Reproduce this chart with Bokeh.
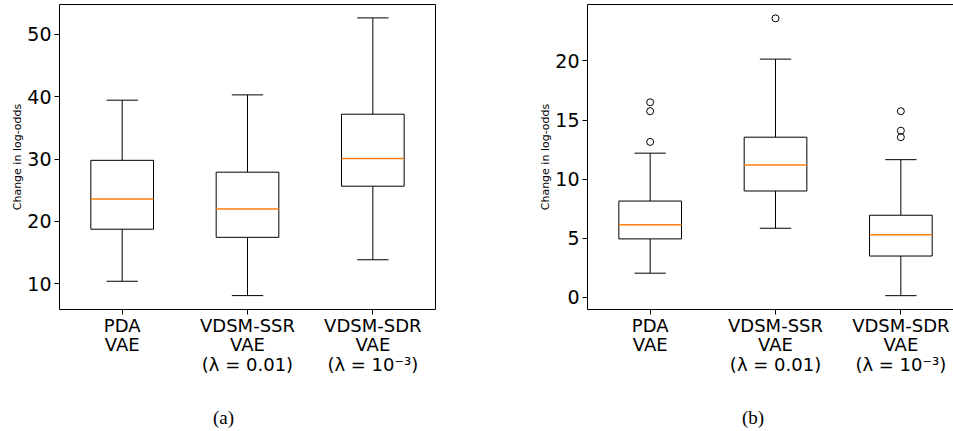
from bokeh.plotting import figure
from bokeh.models import FixedTicker, Range1d, LinearAxis, Div
from bokeh.layouts import row, column
from bokeh.embed import file_html
from bokeh.resources import INLINE

# ---------------- data ----------------
positions = [1, 2, 3]
tick_labels = ["PDA\nVAE", "VDSM-SSR\nVAE\n(λ = 0.01)", "VDSM-SDR\nVAE\n(λ = 10⁻³)"]

# panel (a)
a_whisker_low = [10.4, 8.1, 13.85]
a_q1 = [18.75, 17.45, 25.65]
a_median = [23.6, 22.0, 30.1]
a_q3 = [29.8, 27.9, 37.2]
a_whisker_high = [39.45, 40.3, 52.65]
a_outliers = [[], [], []]
a_yticks = [10, 20, 30, 40, 50]

# panel (b)
b_whisker_low = [2.05, 5.85, 0.15]
b_q1 = [4.95, 9.0, 3.5]
b_median = [6.15, 11.2, 5.3]
b_q3 = [8.15, 13.55, 6.95]
b_whisker_high = [12.2, 20.15, 11.65]
b_outliers = [[13.15, 15.75, 16.5], [23.6], [13.55, 14.1, 15.75]]
b_yticks = [0, 5, 10, 15, 20]

BOX_W = 0.5
CAP_W = 0.25
MEDIAN_COLOR = "#ff7f0e"
FONT = "DejaVu Sans"
FIG_H = 395


def border_axis(p, side):
    ax = LinearAxis(ticker=FixedTicker(ticks=[]), axis_line_color="black",
                    axis_line_width=1, major_tick_out=0, major_tick_in=0,
                    minor_tick_out=0, minor_tick_in=0, major_label_text_font_size="0px")
    p.add_layout(ax, side)


def panel(lo, q1, med, q3, hi, outl, yr, yticks, width, x_end, mb_left, mb_right, right_border):
    p = figure(width=width, height=FIG_H, x_range=Range1d(0.5, x_end), y_range=Range1d(*yr),
               output_backend="svg", toolbar_location=None,
               min_border_left=mb_left, min_border_right=mb_right,
               min_border_top=4, min_border_bottom=FIG_H - 4 - 305)
    p.grid.visible = False
    p.outline_line_color = None
    p.background_fill_color = "white"
    p.border_fill_color = "white"

    # whiskers
    p.segment(x0=positions, y0=q3, x1=positions, y1=hi, line_color="black", line_width=1)
    p.segment(x0=positions, y0=q1, x1=positions, y1=lo, line_color="black", line_width=1)
    # caps
    p.segment(x0=[x - CAP_W / 2 for x in positions], x1=[x + CAP_W / 2 for x in positions],
              y0=hi, y1=hi, line_color="black", line_width=1)
    p.segment(x0=[x - CAP_W / 2 for x in positions], x1=[x + CAP_W / 2 for x in positions],
              y0=lo, y1=lo, line_color="black", line_width=1)
    # boxes
    p.vbar(x=positions, width=BOX_W, bottom=q1, top=q3, fill_color="white",
           line_color="black", line_width=1)
    # medians
    p.segment(x0=[x - BOX_W / 2 for x in positions], x1=[x + BOX_W / 2 for x in positions],
              y0=med, y1=med, line_color=MEDIAN_COLOR, line_width=1.5)
    # outliers
    ox = [positions[i] for i, vals in enumerate(outl) for _ in vals]
    oy = [v for vals in outl for v in vals]
    if ox:
        p.scatter(ox, oy, marker="circle", size=7, fill_color=None,
                  line_color="black", line_width=1)

    xa = p.xaxis[0]
    xa.ticker = FixedTicker(ticks=positions)
    xa.major_label_overrides = {pos: lab for pos, lab in zip(positions, tick_labels)}
    xa.major_label_text_font = FONT
    xa.major_label_text_font_size = "18px"
    xa.major_label_text_color = "black"
    xa.major_label_text_line_height = 0.95
    xa.major_tick_out = 5
    xa.major_tick_in = 0
    xa.minor_tick_out = 0
    xa.minor_tick_in = 0
    xa.major_label_standoff = 0
    xa.axis_line_color = "black"

    ya = p.yaxis[0]
    ya.ticker = FixedTicker(ticks=yticks)
    ya.major_label_text_font = FONT
    ya.major_label_text_font_size = "19px"
    ya.major_label_text_color = "black"
    ya.major_tick_out = 5
    ya.major_tick_in = 0
    ya.minor_tick_out = 0
    ya.minor_tick_in = 0
    ya.major_label_standoff = 3
    ya.axis_line_color = "black"
    ya.axis_label = "Change in log-odds"
    ya.axis_label_text_font = FONT
    ya.axis_label_text_font_size = "11px"
    ya.axis_label_text_font_style = "normal"
    ya.axis_label_text_color = "black"
    ya.axis_label_standoff = 0

    border_axis(p, "above")
    if right_border:
        border_axis(p, "right")
    return p


def caption(text, width, pad_left):
    return Div(text=text, width=width, height=431 - FIG_H,
               styles={"font-family": "Liberation Serif", "font-size": "19px",
                       "line-height": "19px", "color": "black",
                       "padding-top": "13px", "padding-left": f"{pad_left}px",
                       "box-sizing": "border-box", "margin": "0"})


pa = panel(a_whisker_low, a_q1, a_median, a_q3, a_whisker_high, a_outliers,
           (5.87, 54.8), a_yticks, 536, 3.5, 59, 101, True)
pb = panel(b_whisker_low, b_q1, b_median, b_q3, b_whisker_high, b_outliers,
           (-1.02, 24.77), b_yticks, 417, 3.42, 51, 0, False)

layout = column(row(pa, pb), row(caption("(a)", 536, 213), caption("(b)", 417, 206)))
open("out.html", "w").write(file_html(layout, INLINE))
